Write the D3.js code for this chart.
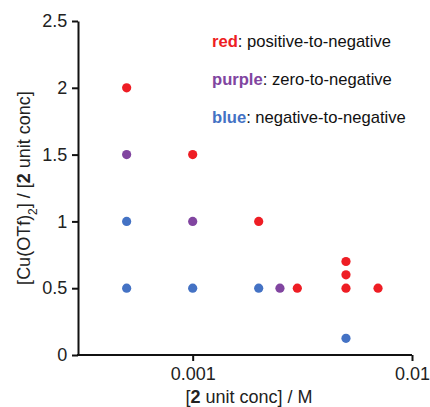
<!DOCTYPE html>
<html>
<head>
<meta charset="utf-8">
<script src="https://d3js.org/d3.v7.min.js"></script>
<style>
  body { margin: 0; background: #fff; }
  text { font-family: "Liberation Sans", Arial, sans-serif; }
</style>
</head>
<body>
<div id="chart"></div>
<script>
// Data
const redX = [0.0005, 0.001, 0.002, 0.003, 0.005, 0.005, 0.005, 0.007];
const redY = [2, 1.5, 1, 0.5, 0.5, 0.6, 0.7, 0.5];
const purpleX = [0.0005, 0.001, 0.0025];
const purpleY = [1.5, 1, 0.5];
const blueX = [0.0005, 0.0005, 0.001, 0.002, 0.005];
const blueY = [1, 0.5, 0.5, 0.5, 0.125];
const xTicks = [0.001, 0.01];
const xTickLabels = ["0.001", "0.01"];
const yTicks = [0, 0.5, 1, 1.5, 2, 2.5];
const yTickLabels = ["0", "0.5", "1", "1.5", "2", "2.5"];
const legendNames = ["red", "purple", "blue"];
const legendTexts = [": positive-to-negative", ": zero-to-negative", ": negative-to-negative"];

const colors = { red: "#ee1d24", purple: "#8145a0", blue: "#4472c4" };

const W = 430, H = 407;
const margin = { top: 21, right: 18, bottom: 52, left: 78 };
const width = W - margin.left - margin.right;
const height = H - margin.top - margin.bottom;

const svg = d3.select("#chart").append("svg")
  .attr("width", W).attr("height", H);
const g = svg.append("g").attr("transform", `translate(${margin.left},${margin.top})`);

const x = d3.scaleLog().domain([0.0003, 0.01]).range([0, width]);
const y = d3.scaleLinear().domain([0, 2.5]).range([height, 0]);

// Axes
const xAxis = g.append("g")
  .attr("transform", `translate(0,${height})`)
  .call(d3.axisBottom(x).tickValues(xTicks).tickFormat((d, i) => xTickLabels[i]).tickSize(6).tickSizeOuter(0));
const yAxis = g.append("g")
  .call(d3.axisLeft(y).tickValues(yTicks).tickFormat((d, i) => yTickLabels[i]).tickSize(6).tickSizeOuter(0));

[xAxis, yAxis].forEach(a => {
  a.select(".domain").attr("stroke", "#111").attr("stroke-width", 2);
  a.selectAll(".tick line").attr("stroke", "#111").attr("stroke-width", 2);
  a.selectAll(".tick text").attr("font-size", 18).attr("fill", "#222")
    .attr("font-family", "'Liberation Sans', Arial, sans-serif");
});
xAxis.selectAll(".tick text").attr("dy", "0.9em");
yAxis.selectAll(".tick text").attr("dx", "-0.1em");
// extend x domain line to cover y axis stroke
xAxis.select(".domain").attr("d", `M-1,0H${width}`);

// Axis labels
const xl = svg.append("text")
  .attr("x", margin.left + width / 2 + 4)
  .attr("y", 403)
  .attr("text-anchor", "middle")
  .attr("font-size", 18)
  .attr("fill", "#222");
xl.append("tspan").text("[");
xl.append("tspan").attr("font-weight", "bold").text("2");
xl.append("tspan").text(" unit conc] / M");

const yl = svg.append("text")
  .attr("transform", `translate(30,${margin.top + height / 2}) rotate(-90)`)
  .attr("text-anchor", "middle")
  .attr("font-size", 18)
  .attr("fill", "#222");
yl.append("tspan").text("[Cu(OTf)");
yl.append("tspan").attr("font-size", 12).attr("baseline-shift", "sub").text("2");
yl.append("tspan").text("] / [");
yl.append("tspan").attr("font-weight", "bold").text("2");
yl.append("tspan").text(" unit conc]");

// Points
const series = [
  { name: "red", xs: redX, ys: redY },
  { name: "purple", xs: purpleX, ys: purpleY },
  { name: "blue", xs: blueX, ys: blueY }
];
series.forEach(s => {
  g.selectAll(null)
    .data(s.xs.map((v, i) => [v, s.ys[i]]))
    .enter().append("circle")
    .attr("cx", d => x(d[0]))
    .attr("cy", d => y(d[1]))
    .attr("r", 4.6)
    .attr("fill", colors[s.name]);
});

// Legend
legendNames.forEach((n, i) => {
  const t = svg.append("text")
    .attr("x", 212)
    .attr("y", 47 + i * 38)
    .attr("font-size", 16.6)
    .attr("fill", "#111");
  t.append("tspan").attr("font-weight", "bold").attr("fill", colors[n]).text(n);
  t.append("tspan").text(legendTexts[i]);
});
</script>
</body>
</html>
